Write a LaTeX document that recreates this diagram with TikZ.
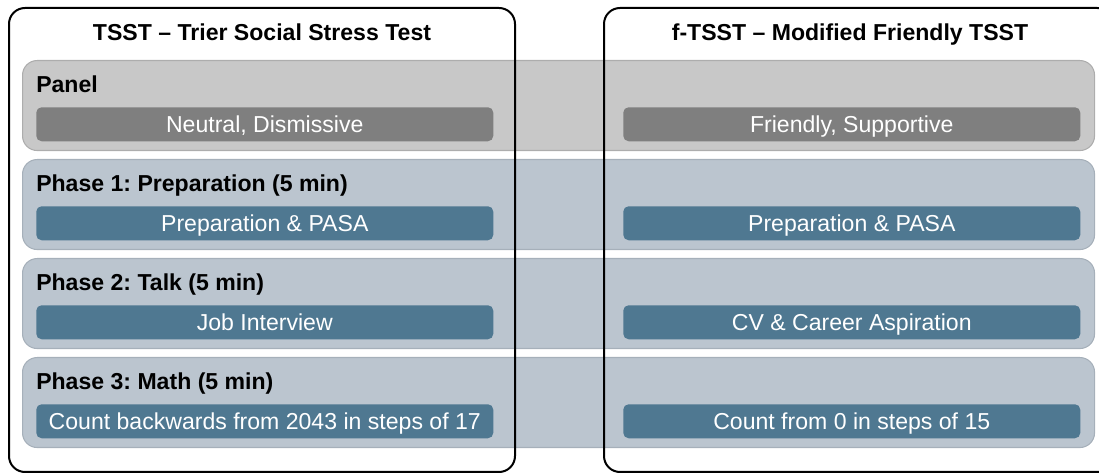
\documentclass[tikz,border=0pt]{standalone}
\usepackage{fontspec}
\setmainfont{Liberation Sans}
\frenchspacing
\definecolor{bandgray}{HTML}{C8C8C8}
\definecolor{bandgrayline}{HTML}{ADADAD}
\definecolor{innergray}{HTML}{7F7F7F}
\definecolor{bandblue}{HTML}{BBC5CF}
\definecolor{bandblueline}{HTML}{A6B0BA}
\definecolor{innerblue}{HTML}{4F7891}
\tikzset{
  band/.style={draw=#1line, fill=#1, line width=0.8pt, rounded corners=11pt, anchor=north west,
    minimum width=804pt, minimum height=67.5pt, inner sep=0pt},
  inbox/.style={fill=#1, rounded corners=4pt, anchor=north west, minimum width=342.75pt,
    minimum height=25.5pt, inner sep=0pt, text height=12.4pt, text depth=0pt,
    text=white, font=\fontsize{17.3}{20}\selectfont},
  bandlabel/.style={anchor=west, inner sep=0pt, text height=12.4pt, text depth=0pt,
    font=\bfseries\fontsize{17.3}{20}\selectfont},
  outer/.style={draw=black, line width=1.5pt, rounded corners=12pt, anchor=north west,
    minimum height=348pt, inner sep=0pt},
  title/.style={inner sep=0pt, text height=12.4pt, text depth=0pt,
    font=\bfseries\fontsize{17.3}{20}\selectfont}
}
\begin{document}
\begin{tikzpicture}[x=0.75pt,y=-0.75pt]
\useasboundingbox (0,0) rectangle (1099,473);
\clip (0,0) rectangle (1099,473);
% bands
\node[band=bandgray] (b0) at (22,60) {};
\node[band=bandblue] (b1) at (22,159) {};
\node[band=bandblue] (b2) at (22,258) {};
\node[band=bandblue] (b3) at (22,357) {};
% band labels
\node[bandlabel] (l0) at (36,84) {Panel};
\node[bandlabel] (l1) at (36,183) {Phase 1: Preparation (5 min)};
\node[bandlabel] (l2) at (36,282) {Phase 2: Talk (5 min)};
\node[bandlabel] (l3) at (36,381) {Phase 3: Math (5 min)};
% inner boxes left
\node[inbox=innergray] (a0) at (36,107) {Neutral, Dismissive};
\node[inbox=innerblue] (a1) at (36,206) {Preparation \& PASA};
\node[inbox=innerblue] (a2) at (36,305) {Job Interview};
\node[inbox=innerblue] (a3) at (36,404) {Count backwards from 2043 in steps of 17};
% inner boxes right
\node[inbox=innergray] (c0) at (623,107) {Friendly, Supportive};
\node[inbox=innerblue] (c1) at (623,206) {Preparation \& PASA};
\node[inbox=innerblue] (c2) at (623,305) {CV \& Career Aspiration};
\node[inbox=innerblue] (c3) at (623,404) {Count from 0 in steps of 15};
% outer boxes
\node[outer, minimum width=379.5pt] (left) at (8,7) {};
\node[outer, minimum width=382pt] (right) at (603,7) {};
% titles
\node[title] (t1) at (262,32) {TSST – Trier Social Stress Test};
\node[title] (t2) at (850,32) {f-TSST – Modified Friendly TSST};
\end{tikzpicture}
\end{document}
